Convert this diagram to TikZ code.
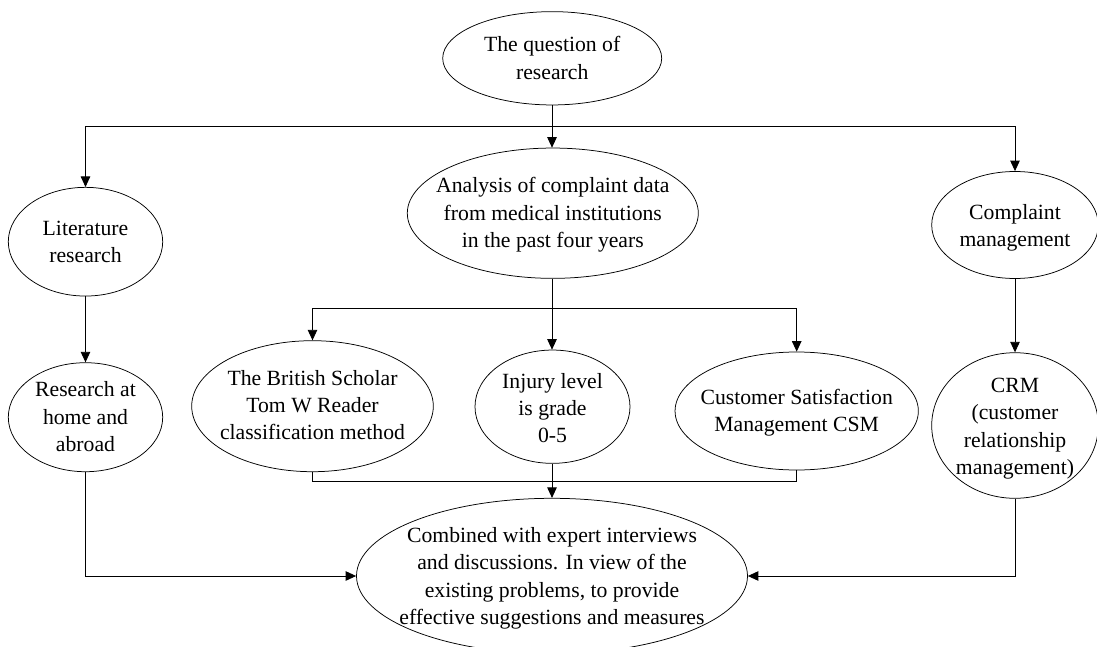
\documentclass[tikz,border=0pt]{standalone}
\usepackage{fontspec}
\setmainfont{Liberation Serif}
\usetikzlibrary{shapes.geometric,arrows.meta}
\begin{document}
\begin{tikzpicture}[x=1pt,y=-1pt,
  ell/.style={ellipse,draw,line width=0.75pt,inner sep=0pt},
  txt/.style={inner sep=0pt,align=center,font=\fontsize{21.7}{27.4}\selectfont},
  con/.style={line width=0.9pt},
  arr/.style={con,-{Triangle[length=10.5pt,width=9.5pt]}}]
\useasboundingbox (0,0) rectangle (1097,647);
\node[ell,minimum width=219pt,minimum height=93.3pt] (q) at (552.2,58.3) {};
\node[txt] at (552.2,58) {The question of\\research};
\node[ell,minimum width=291pt,minimum height=130.3pt] (an) at (552.8,213.2) {};
\node[txt] at (552.8,215) {Analysis of complaint data\\from medical institutions\\in the past four years};
\node[ell,minimum width=154.4pt,minimum height=108.7pt] (lit) at (85.5,241.7) {};
\node[txt] at (85.5,242) {Literature\\research};
\node[ell,minimum width=166.6pt,minimum height=107pt] (cm) at (1015,225) {};
\node[txt] at (1015,227.6) {Complaint\\management};
\node[ell,minimum width=241.6pt,minimum height=131pt] (brit) at (312.5,406.2) {};
\node[txt] at (312.5,405) {The British Scholar\\Tom W Reader\\classification method};
\node[ell,minimum width=155pt,minimum height=113.3pt] (inj) at (552.5,406.7) {};
\node[txt] at (552.5,408) {Injury level\\is grade\\0-5};
\node[ell,minimum width=243.3pt,minimum height=118pt] (csm) at (796.7,411) {};
\node[txt] at (796.7,412.5) {Customer Satisfaction\\Management CSM};
\node[ell,minimum width=154.4pt,minimum height=109pt] (home) at (85.5,417.2) {};
\node[txt] at (85.5,416.8) {Research at\\home and\\abroad};
\node[ell,minimum width=166.6pt,minimum height=145.6pt] (crm) at (1015,425.5) {};
\node[txt] at (1015,428.5) {CRM\\(customer\\relationship\\management)};
\node[ell,minimum width=391pt,minimum height=155.4pt] (comb) at (552,576) {};
\node[txt] at (552,578.3) {Combined with expert interviews\\and discussions. In view of the\\existing problems, to provide\\effective suggestions and measures};
\coordinate (j1) at (552,126.7);
\coordinate (j2) at (552,308);
\coordinate (j3) at (552,481);
\draw[con] (q.south -| j1) -- (j1);
\draw[arr] (j1) -- (an.north -| j1);
\draw[arr] (j1) -| (lit.north);
\draw[arr] (j1) -| (cm.north);
\draw[con] (an.south -| j2) -- (j2);
\draw[arr] (j2) -| (brit.north);
\draw[arr] (j2) -| (csm.north);
\draw[arr] (j2) -- (inj.north -| j2);
\draw[arr] (lit.south) -- (home.north);
\draw[arr] (cm.south) -- (crm.north);
\draw[con] (brit.south) |- (j3);
\draw[con] (csm.south) |- (j3);
\draw[con] (inj.south -| j3) -- (j3);
\draw[arr] (j3) -- (comb.north -| j3);
\draw[arr] (home.south) |- (comb.west);
\draw[arr] (crm.south) |- (comb.east);
\end{tikzpicture}
\end{document}
